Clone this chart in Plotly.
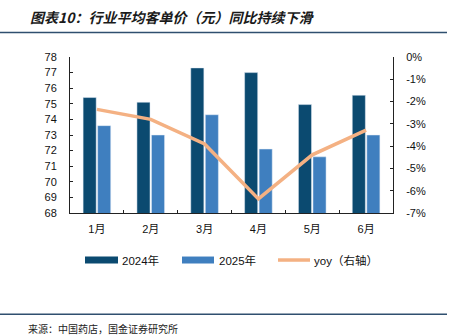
import plotly.graph_objects as go

months = ["1月", "2月", "3月", "4月", "5月", "6月"]
v2024 = [75.4, 75.1, 77.3, 77.0, 74.95, 75.55]
v2025 = [73.6, 73.0, 74.3, 72.1, 71.6, 73.0]
yoy = [-2.35, -2.8, -3.9, -6.37, -4.39, -3.28]
left_ticks = list(range(68, 79))
right_ticks = list(range(-7, 1))
right_text = [f"{t}%" for t in right_ticks]

C_DARK = "#0B4A70"
C_LIGHT = "#3F7FBF"
C_LINE = "#F4B183"
FONT = "Liberation Sans, Noto Sans CJK SC"

fig = go.Figure()
fig.add_bar(x=months, y=v2024, name="2024年", marker_color=C_DARK, yaxis="y", base=None)
fig.add_bar(x=months, y=v2025, name="2025年", marker_color=C_LIGHT, yaxis="y")
fig.add_scatter(x=months, y=yoy, name="yoy（右轴）", mode="lines",
                line=dict(color=C_LINE, width=3.5), yaxis="y2")

L, R, T, B = 70, 393, 56.7, 213.3
W, H = R - L, B - T
def px(p): return (p - L) / W
def py(q): return (B - q) / H

shapes = [
    dict(type="line", xref="paper", yref="paper", x0=px(0), x1=px(447), y0=py(32), y1=py(32),
         line=dict(color="#2F4F6F", width=1.5)),
    dict(type="line", xref="paper", yref="paper", x0=px(0), x1=px(447), y0=py(315), y1=py(315),
         line=dict(color="#2F4F6F", width=1.5)),
    dict(type="rect", xref="paper", yref="paper", x0=px(85), x1=px(118), y0=py(264), y1=py(257),
         fillcolor=C_DARK, line=dict(width=0)),
    dict(type="rect", xref="paper", yref="paper", x0=px(182), x1=px(214), y0=py(264), y1=py(257),
         fillcolor=C_LIGHT, line=dict(width=0)),
    dict(type="line", xref="paper", yref="paper", x0=px(278), x1=px(310), y0=py(260.5), y1=py(260.5),
         line=dict(color=C_LINE, width=3.5)),
]

ann = [
    dict(text="<b><i>图表10：行业平均客单价（元）同比持续下滑</i></b>", x=px(28), y=py(17),
         xanchor="left", yanchor="middle", font=dict(size=14, color="#1a1a1a", family="Noto Sans CJK SC")),
    dict(text="来源：中国药店，国金证券研究所", x=px(26), y=py(329), xanchor="left", yanchor="middle",
         font=dict(size=10, color="#222", family="Noto Sans CJK SC")),
    dict(text="2024年", x=px(120), y=py(260.5), xanchor="left", yanchor="middle",
         font=dict(size=11.5, color="#111", family=FONT)),
    dict(text="2025年", x=px(217), y=py(260.5), xanchor="left", yanchor="middle",
         font=dict(size=11.5, color="#111", family=FONT)),
    dict(text="yoy（右轴）", x=px(312), y=py(260.5), xanchor="left", yanchor="middle",
         font=dict(size=11.5, color="#111", family=FONT)),
]
for a in ann:
    a.update(xref="paper", yref="paper", showarrow=False)

axis_common = dict(showgrid=False, zeroline=False, showline=True, linecolor="#222", linewidth=1,
                   ticks="inside", ticklen=3, tickcolor="#222",
                   tickfont=dict(size=11, color="#111", family=FONT))

fig.update_layout(
    width=458, height=336, margin=dict(l=L, r=458 - R, t=T, b=336 - B),
    paper_bgcolor="white", plot_bgcolor="white", showlegend=False,
    barmode="group", bargap=0.46, bargroupgap=0.1,
    shapes=shapes, annotations=ann,
    xaxis=dict(**axis_common, tickson="boundaries", ticklabelstandoff=6),
    yaxis=dict(**axis_common, range=[68, 78], tickvals=left_ticks, ticklabelstandoff=10),
    yaxis2=dict(**axis_common, overlaying="y", side="right", range=[-7, 0],
                tickvals=right_ticks, ticktext=right_text, ticklabelstandoff=10),
)
fig.write_html("out.html")
